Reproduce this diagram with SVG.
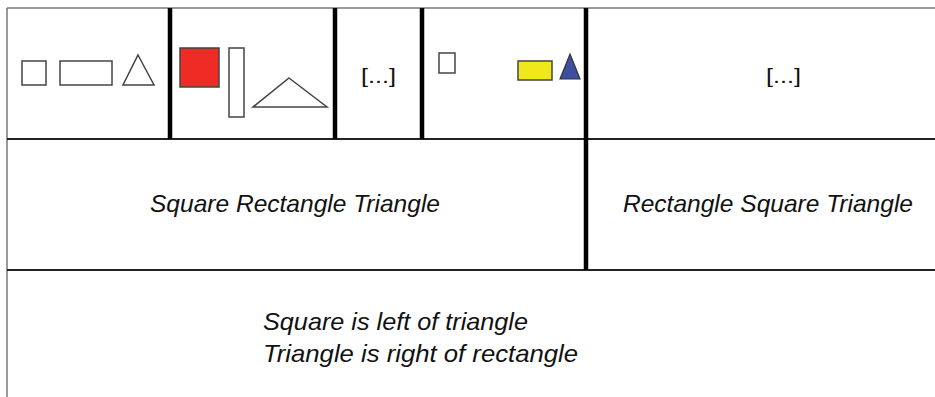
<svg xmlns="http://www.w3.org/2000/svg" width="935" height="397" viewBox="0 0 935 397">
<style>
.grid{stroke:#222;stroke-width:2;fill:none}
.edge{stroke:#777;stroke-width:1.5;fill:none}
.thick{stroke:#000;stroke-width:4.5;fill:none}
.shape{stroke:#444;stroke-width:1.5;fill:#fff}
.lbl{font-family:"Liberation Sans",Arial,sans-serif;font-style:italic;font-size:24px;fill:#111}
.dots{font-family:"Liberation Sans",Arial,sans-serif;font-size:21px;fill:#111}
</style>
<rect width="935" height="397" fill="#fff"/>
<g id="grid">
<line class="edge" x1="7" y1="8" x2="935" y2="8"/>
<line class="edge" x1="7" y1="8" x2="7" y2="397"/>
<line class="grid" x1="7" y1="139" x2="935" y2="139"/>
<line class="grid" x1="7" y1="270" x2="935" y2="270"/>
<line class="thick" x1="170" y1="8" x2="170" y2="139"/>
<line class="thick" x1="335" y1="8" x2="335" y2="139"/>
<line class="thick" x1="422" y1="8" x2="422" y2="139"/>
<line class="thick" x1="586" y1="8" x2="586" y2="270"/>
</g>
<g id="cell1">
<rect class="shape" x="22" y="61" width="24" height="24"/>
<rect class="shape" x="60" y="61" width="52" height="24"/>
<polygon class="shape" points="138,55 154,85 123,85"/>
</g>
<g id="cell2">
<rect x="180" y="48" width="39" height="39" fill="#EE2B24" stroke="#444" stroke-width="1.5"/>
<rect class="shape" x="229" y="48" width="15" height="69"/>
<polygon class="shape" points="289,78 327,107 253,107"/>
</g>
<g id="cell3">
<text class="dots" x="361" y="83" textLength="35" lengthAdjust="spacingAndGlyphs">[...]</text>
</g>
<g id="cell4">
<rect class="shape" x="439" y="53" width="16" height="20"/>
<rect x="518" y="61" width="34" height="19" fill="#F0E81A" stroke="#444" stroke-width="1.5"/>
<polygon points="570,54 580,79 560,79" fill="#3F4FA0" stroke="#333" stroke-width="1.2"/>
</g>
<g id="cell5">
<text class="dots" x="766" y="83" textLength="35" lengthAdjust="spacingAndGlyphs">[...]</text>
</g>
<g id="label1">
<text class="lbl" x="150" y="212" textLength="290" lengthAdjust="spacingAndGlyphs">Square Rectangle Triangle</text>
</g>
<g id="label2">
<text class="lbl" x="623" y="212" textLength="290" lengthAdjust="spacingAndGlyphs">Rectangle Square Triangle</text>
</g>
<g id="relations">
<text class="lbl" x="263" y="330" textLength="265" lengthAdjust="spacingAndGlyphs">Square is left of triangle</text>
<text class="lbl" x="263" y="362" textLength="315" lengthAdjust="spacingAndGlyphs">Triangle is right of rectangle</text>
</g>
</svg>
